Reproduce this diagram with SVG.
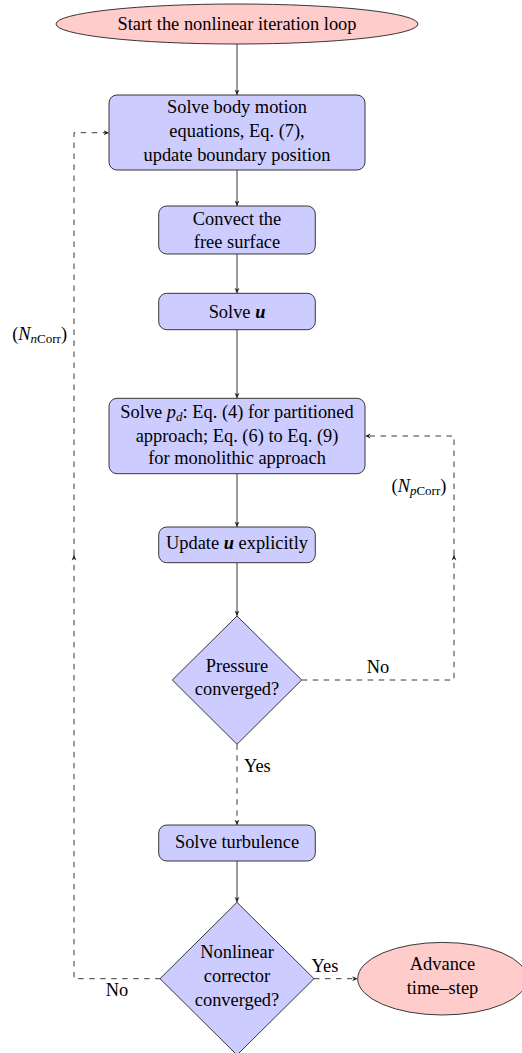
<svg xmlns="http://www.w3.org/2000/svg" width="522" height="1053" viewBox="0 0 522 1053">
<style>
text{font-family:"Liberation Serif","Times New Roman",serif;font-size:18.4px;fill:#000;text-anchor:middle}
.box{fill:#ccccff;stroke:#222;stroke-width:0.9}
.term{fill:#ffcccc;stroke:#222;stroke-width:0.9}
.c{fill:none;stroke:#222;stroke-width:0.9}
.d{fill:none;stroke:#222;stroke-width:0.9;stroke-dasharray:5.5 5.5}
.l{text-anchor:start}
.r{text-anchor:end}
</style>
<defs>
<marker id="ah" viewBox="0 0 10 10" refX="10" refY="5" markerWidth="5.5" markerHeight="5.5" markerUnits="userSpaceOnUse" orient="auto">
<path d="M0,0.5 L10,5 L0,9.5 L3,5 Z" fill="#222"/>
</marker>
</defs>
<g id="connectors">
<path class="c" d="M237,44 V95" marker-end="url(#ah)"/>
<path class="c" d="M237,170 V206" marker-end="url(#ah)"/>
<path class="c" d="M237,254 V293.3" marker-end="url(#ah)"/>
<path class="c" d="M237,329.7 V398.3" marker-end="url(#ah)"/>
<path class="c" d="M237,473.7 V527" marker-end="url(#ah)"/>
<path class="c" d="M237,562.7 V616" marker-end="url(#ah)"/>
<path class="d" d="M237,744.3 V825" marker-end="url(#ah)"/>
<path class="c" d="M237,861 V902.3" marker-end="url(#ah)"/>
<path class="d" d="M314,978.7 H357.7" marker-end="url(#ah)"/>
<path class="d" d="M301.7,680 H454 V555" marker-end="url(#ah)"/>
<path class="d" d="M454,555 V436 H365" marker-end="url(#ah)"/>
<path class="d" d="M160.7,978.7 H74 V555" marker-end="url(#ah)"/>
<path class="d" d="M74,555 V132.7 H109" marker-end="url(#ah)"/>
<text x="67" y="340" class="r">(<tspan font-style="italic">N</tspan><tspan font-size="13" dy="3"><tspan font-style="italic">n</tspan>Corr</tspan><tspan dy="-3">)</tspan></text>
<text x="391.5" y="491.7" class="l">(<tspan font-style="italic">N</tspan><tspan font-size="13" dy="3"><tspan font-style="italic">p</tspan>Corr</tspan><tspan dy="-3">)</tspan></text>
<text x="378" y="673.3">No</text>
<text x="244" y="771.7" class="l">Yes</text>
<text x="325" y="971.7">Yes</text>
<text x="117" y="996">No</text>
</g>
<g id="start">
<ellipse class="term" cx="237" cy="24" rx="181" ry="20"/>
<text x="237" y="29.5">Start the nonlinear iteration loop</text>
</g>
<g id="body-motion">
<rect class="box" x="109" y="95" width="256" height="75" rx="8"/>
<text x="237" y="113">Solve body motion</text>
<text x="237" y="137">equations, Eq. (7),</text>
<text x="237" y="161">update boundary position</text>
</g>
<g id="convect">
<rect class="box" x="158.7" y="206" width="156.6" height="48" rx="8"/>
<text x="237" y="225">Convect the</text>
<text x="237" y="247.7">free surface</text>
</g>
<g id="solve-u">
<rect class="box" x="158.7" y="293.3" width="156.6" height="36.4" rx="8"/>
<text x="237" y="318">Solve <tspan font-weight="bold" font-style="italic">u</tspan></text>
</g>
<g id="solve-pd">
<rect class="box" x="109" y="398.3" width="256" height="75.4" rx="8"/>
<text x="237" y="417.7">Solve <tspan font-style="italic">p</tspan><tspan font-style="italic" font-size="13" dy="3">d</tspan><tspan dy="-3">: Eq. (4) for partitioned</tspan></text>
<text x="237" y="441.7">approach; Eq. (6) to Eq. (9)</text>
<text x="237" y="464">for monolithic approach</text>
</g>
<g id="update-u">
<rect class="box" x="158.7" y="527" width="156.6" height="35.7" rx="8"/>
<text x="237" y="549.3">Update <tspan font-weight="bold" font-style="italic">u</tspan> explicitly</text>
</g>
<g id="pressure-converged">
<polygon class="box" points="237,616 301.7,680 237,744.3 172.3,680"/>
<text x="237" y="672.3">Pressure</text>
<text x="237" y="695">converged?</text>
</g>
<g id="turbulence">
<rect class="box" x="158.7" y="825" width="156.6" height="36" rx="8"/>
<text x="237" y="848.3">Solve turbulence</text>
</g>
<g id="nonlinear-converged">
<polygon class="box" points="237,902.3 314,978.7 237,1055 160,978.7"/>
<text x="237" y="958.3">Nonlinear</text>
<text x="237" y="982.3">corrector</text>
<text x="237" y="1006">converged?</text>
</g>
<g id="advance">
<ellipse class="term" cx="442.5" cy="978.7" rx="84.8" ry="36.3"/>
<text x="442.5" y="970">Advance</text>
<text x="442.5" y="994.3">time–step</text>
</g>
</svg>
